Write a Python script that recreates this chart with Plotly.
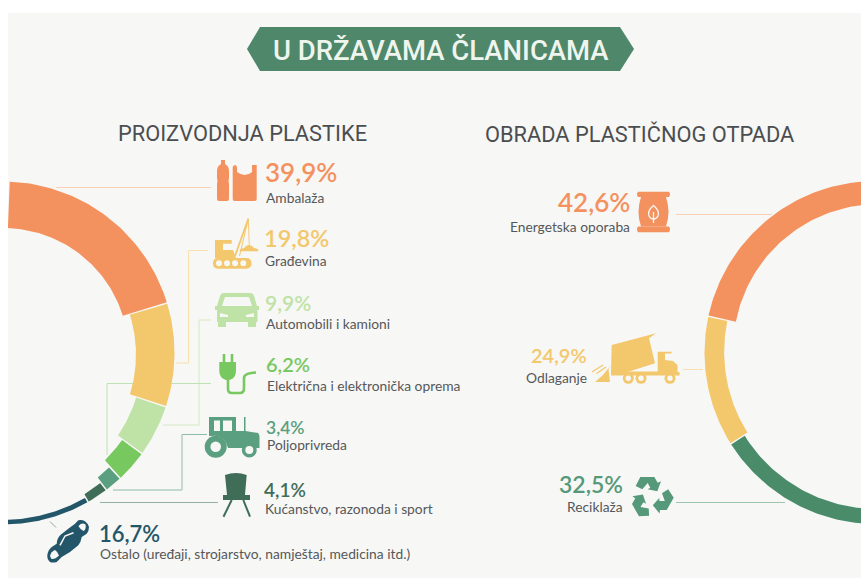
import numpy as np
import plotly.graph_objects as go

# ---- data ----
production_labels = ["Ambalaža", "Građevina", "Automobili i kamioni", "Električna i elektronička oprema",
                     "Poljoprivreda", "Kućanstvo, razonoda i sport", "Ostalo (uređaji, strojarstvo, namještaj, medicina itd.)"]
production_values = [39.9, 19.8, 9.9, 6.2, 3.4, 4.1, 16.7]
treatment_labels = ["Energetska oporaba", "Odlaganje", "Reciklaža"]
treatment_values = [42.6, 24.9, 32.5]
main_title = "U DRŽAVAMA ČLANICAMA"
left_title = "PROIZVODNJA PLASTIKE"
right_title = "OBRADA PLASTIČNOG OTPADA"

# ---- styles ----
W, H = 861, 578
BG = "#F7F7F5"
HEAD = "#4E8769"
TXT = "#55585A"
prod_colors = ["#F4925F", "#F3C76C", "#BFE3A6", "#78C860", "#5A9F80", "#3F6D58", "#24566A"]
prod_thick = [(46.5, 46), (39, 38), (31, 30), (24, 23.5), (15.5, 15), (9, 8.5), (5, 4.5)]
prod_line = ["#F9D0B6", "#F7E0AE", "#D3EAC3", "#BFE2B2", "#8FBCA6", "#94B0A2", "#8EA6AE"]
tr_colors = ["#F4925F", "#F3C76C", "#4A8B69"]
tr_thick = [(23, 28), (19.5, 20), (16, 15)]
L_C, R_C, RAD = (3, 353), (876, 352.5), 171.5


def arc(cx, sign, a0, a1, th0, th1, cy):
    t = np.radians(np.linspace(a0, a1, 60))
    ri = RAD - np.linspace(th0, th1, 60)
    xs = np.r_[cx + sign * RAD * np.sin(t), (cx + sign * ri * np.sin(t))[::-1]]
    ys = np.r_[cy - RAD * np.cos(t), (cy - ri * np.cos(t))[::-1]]
    return xs, ys


fig = go.Figure()


def ring(values, colors, thick, center, sign):
    cum = 0
    for v, c, th in zip(values, colors, thick):
        a0 = 2 + cum * 1.78 + 0.25
        cum += v
        a1 = 2 + cum * 1.78 - 0.25
        xs, ys = arc(center[0], sign, a0, a1, th[0], th[1], center[1])
        fig.add_trace(go.Scatter(x=xs, y=ys, mode="lines", fill="toself", fillcolor=c,
                                 line=dict(width=0, color=c), hoverinfo="skip", showlegend=False))


ring(production_values, prod_colors, prod_thick, L_C, 1)
ring(treatment_values, tr_colors, tr_thick, R_C, -1)

shapes = []
ann = []


def S(path, color):
    shapes.append(dict(type="path", path=path, fillcolor=color, line=dict(width=0), xref="x", yref="y", layer="above"))


def K(path, color, w=1.0, layer="below"):
    shapes.append(dict(type="path", path=path, line=dict(color=color, width=w), xref="x", yref="y", layer=layer))


def O(cx, cy, r, color):
    shapes.append(dict(type="circle", x0=cx - r, x1=cx + r, y0=cy - r, y1=cy + r, fillcolor=color,
                       line=dict(width=0), xref="x", yref="y", layer="above"))


def T(x, y, s, size, color, anchor="left", font="Lato", weight=400):
    ann.append(dict(x=x, y=y, text=s, xref="x", yref="y", showarrow=False, xanchor=anchor, yanchor="middle",
                    font=dict(family=font, size=size, color=color, weight=weight),
                    borderpad=0, borderwidth=0))


def pct(v):
    return f"{v:.1f}".replace(".", ",") + "%"


# connector lines
K("M56 187.5 H211", prod_line[0])
K("M208 250.5 H188.5 V363 H176", prod_line[1])
K("M211 320 H199 V425 H163", prod_line[2])
K("M211 383.5 H107 V455", prod_line[3])
K("M207 434.5 H182 V490 H113", prod_line[4])
K("M218 502.5 H100", prod_line[5])
K("M50 521.5 L56 527.5", prod_line[6])
K("M676 214.5 H772", "#F9D0B6")
K("M683 369.5 H703", "#F7E0AE")
K("M676 502.5 H785", "#9CC4AE")

# header
S("M247 49 L260 27 H620 L634 49 L620 71 H260 Z", HEAD)
T(441, 50, main_title, 27.5, "#EEF5EE", "center", "Roboto", 500)
T(118, 133.5, left_title, 21.8, "#4B4E50", "left", "Roboto", 400)
T(485, 133.5, right_title, 21.8, "#4B4E50", "left", "Roboto", 400)

# left texts
lx = [265, 264, 265, 265.5, 266, 264, 99]
py = [172, 238, 302.5, 364, 427, 489, 533]
ps = [26, 23.5, 21, 20, 17.5, 19, 22]
ly = [197, 260, 323, 385, 444, 508, 553.5]
for i in range(7):
    T(lx[i], py[i], pct(production_values[i]), ps[i], prod_colors[i], "left", "Lato", 600)
    T(lx[i] + 1, ly[i], production_labels[i], 13.8, TXT)

# right texts
rr = [630, 587, 623]
rp = [202, 355, 484]
rs = [26, 20, 23]
rl = [226.5, 377, 506.5]
rc = ["#F4925F", "#F3C76C", "#55997A"]
for i in range(3):
    T(rr[i], rp[i], pct(treatment_values[i]), rs[i], rc[i], "right", "Lato", 600)
    T(rr[i], rl[i], treatment_labels[i], 13.8, TXT, "right")

# ---- icons ----
c = prod_colors[0]
S("M221 160 H225 V164 Q229 166 229 171 V178 Q228 181 229 184 V199 Q229 201 227 201 H219 Q217 201 217 199 V184 Q218 181 217 178 V171 Q217 166 221 164 Z", c)
S("M232.7 167 Q235 163 237 167 V172 Q245 178 252 172 V165 H256.7 V199 Q256.7 201 255 201 H234.5 Q232.7 201 232.7 199 Z", c)

c = prod_colors[1]
S("M218 258 H246 Q251.5 258 251.5 263.3 Q251.5 268.7 246 268.7 H218 Q213 268.7 213 263.3 Q213 258 218 258 Z", c)
for xx in [219, 227, 235, 243.3]:
    O(xx, 263.3, 3, BG)
S("M215 240 H231.7 V243.7 H223 V250 H233 L236 258 H215 Z", c)
K("M235 256 L248.3 218.7", c, 1.8, "above")
K("M239.5 256 L248.3 218.7", c, 1, "above")
K("M248.3 218.7 L249.3 246", c, 0.9, "above")
S("M239.5 251.3 Q240 248.5 244 248 Q246 245 249 245 Q252 245 254 248 Q258.5 248.5 258.5 251.3 Z", c)

c = prod_colors[2]
S("M224 293 H250 Q253 293 254 296 L257 306 H259 V310 H257.5 V322 H256 V327 H248 V322 H226 V327 H218 V322 H217 V310 H215 V306 H217 L220 296 Q221 293 224 293 Z", c)
S("M225 297 H249 L252 306 H222 Z", BG)
S("M220 313 L228 315 V317 H220 Z", BG)
S("M254 313 L246 315 V317 H254 Z", BG)

c = prod_colors[3]
S("M222.7 354 H225.3 V362 H230.7 V354 H233.3 V362 H236 V371 Q236 378 229.5 380 H226 Q219.3 378 219.3 371 V362 H222.7 Z", c)
K("M228 380 V389 Q228 393 232 393 H240 Q244 393 244 388 V378 Q244 373 256 372.5", c, 2.6, "above")

c = prod_colors[4]
S("M209 417 H236 V431 H244 V417 H245.5 V431 L258 433 Q259.5 434 259.5 437 V448 H255 Q249 440 243 448 H228 Q224 434 212 436 H209 Z", c)
S("M214 420.5 H220 V431 H214 Z", BG)
S("M223 420.5 H232 V431 H223 Z", BG)
O(215.7, 446.7, 11, c)
O(215.7, 446.7, 5.3, BG)
O(249.3, 450, 7.5, c)
O(249.3, 450, 4, BG)

c = prod_colors[5]
S("M225 475 Q236 471 246.7 475 L245 495 H250 V500 H223 V495 H227 Z", c)
K("M231.7 500 L223.5 516.7", c, 2, "above")
K("M243.3 500 L250 516.7", c, 2, "above")

c = prod_colors[6]
S("M47.3 555.3 Q48 550 51.7 547 L56.7 543.7 Q57 538 60.7 534.7 L68.3 528.7 L75 523.7 L78.3 520.3 Q82 519.5 85 521.3 Q88 523.5 89 527 Q89 531 86.7 533.7 L81.7 537 Q81 542 78.3 545.3 L70 552 L61.7 557 L56.7 562 Q53 563 50 562 Q47 559.5 47.3 555.3 Z", c)
S("M78.5 526 Q82 522 85.5 524.5 Q86.5 528 84 531 Q80.5 530 78.5 526 Z", BG)
S("M50 556 Q51 551.5 55 550 Q58 552 59 555.5 Q55 559.5 51.5 559 Z", BG)
K("M60 545.3 L65 536 L73.5 532.7", BG, 1.5, "above")

c = tr_colors[0]
S("M638 191.7 H669 Q671 194 669 197 H638 Q636 194 638 191.7 Z", c)
S("M638 226.5 H669 Q671 229 669 232.3 H638 Q636 229 638 226.5 Z", c)
S("M641 197 Q636 212 641 226.5 H666 Q671 212 666 197 Z", c)
K("M653.5 205.5 Q660 211 658 216 Q656.5 219 653.5 219 Q650.5 219 649 216 Q647 211 653.5 205.5 Z", BG, 1.3, "above")
K("M653.5 212 V223", BG, 1.3, "above")

c = tr_colors[1]
S("M611.7 345 L656 333.3 L649 338.3 L655 363.3 L628.3 371.7 L611 373.3 Z", c)
S("M611 371.5 L628 371.5 H657.7 V351.7 H671.5 V353.5 H665 V360 L673 361 L677.5 365 V372 H679.5 V375.5 H611 Z", c)
for xx in [628.3, 641, 670]:
    O(xx, 378.3, 5.5, c)
    O(xx, 378.3, 2.7, BG)
S("M611 365 L608.5 369 L610 382 H595 L603 375 Z", c)
K("M592 372 L603 365", c, 1.3, "above")
K("M596.5 373.5 L606 367", c, 1.3, "above")

# recycling arrows
c = "#55997A"
base = np.array([(-15.3, -11), (-10.7, -20), (3.3, -20), (6.7, -14.3), (10, -15.7), (6.3, -5.7),
                 (-3.3, -7.7), (-0.7, -9.3), (-3.3, -14), (-8.7, -7.7)], float)
for k in range(3):
    t = np.radians(120 * k)
    xr = base[:, 0] * np.cos(t) - base[:, 1] * np.sin(t) + 651
    yr = base[:, 0] * np.sin(t) + base[:, 1] * np.cos(t) + 497
    S("M" + " L".join(f"{a:.1f} {b:.1f}" for a, b in zip(xr, yr)) + " Z", c)

fig.update_layout(
    width=W, height=H, autosize=False,
    margin=dict(l=0, r=0, t=0, b=0, pad=0),
    paper_bgcolor="#FFFFFF", plot_bgcolor=BG,
    xaxis=dict(range=[8, W], domain=[8 / W, 1], visible=False, fixedrange=True),
    yaxis=dict(range=[H, 13], domain=[0, 1 - 13 / H], visible=False, fixedrange=True),
    shapes=shapes, annotations=ann, showlegend=False,
)
fig.write_html("out.html", config=dict(displayModeBar=False),
               post_script="document.body.style.margin='0';document.body.style.overflow='hidden';")
